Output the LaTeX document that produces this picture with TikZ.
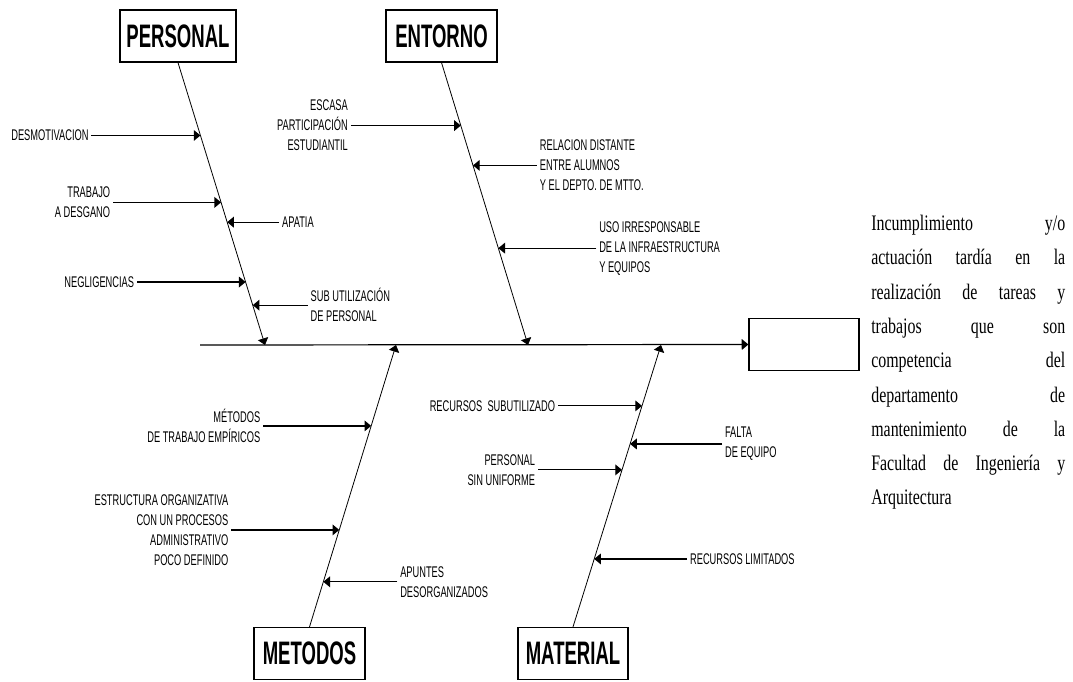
\documentclass[tikz,border=0pt]{standalone}
\usepackage{fontspec}
\usetikzlibrary{arrows.meta,calc}
\newfontfamily\labelfont{Liberation Sans}[FakeStretch=0.60]
\newfontfamily\titlefont{Liberation Sans}[FakeStretch=0.57]
\newfontfamily\effectfont{Liberation Serif}[FakeStretch=0.72]

\begin{document}
\begin{tikzpicture}[x=0.75pt,y=-0.75pt,
  catbox/.style={draw,line width=0.9pt,inner sep=0,minimum width=#1,minimum height=39pt,
    font=\titlefont\bfseries\fontsize{24.4}{26}\selectfont},
  bone/.style={line width=0.6pt,-{Triangle[length=5pt,width=8pt]}},
  cause/.style={line width=0.9pt,-{Triangle[length=5pt,width=8pt]}},
  lbl/.style={inner sep=2pt,font=\labelfont\fontsize{11.6}{15}\selectfont},
  lblL/.style={lbl,anchor=east,align=right},
  lblR/.style={lbl,anchor=west,align=left}]

\useasboundingbox (0,0) rectangle (1073,681);

% category boxes and effect box
\node[catbox=87pt]    (personal) at (178,36)    {PERSONAL};
\node[catbox=83.25pt] (entorno)  at (441.5,36)  {ENTORNO};
\node[catbox=83.25pt] (metodos)  at (309.5,653.5) {METODOS};
\node[catbox=82.5pt]  (material) at (573,653.5) {MATERIAL};
\node[draw,line width=0.9pt,inner sep=0,minimum width=82.5pt,minimum height=39pt] (efecto) at (804,344.5) {};

% spine
\coordinate (s0) at (200,345);
\draw[cause] (s0) -- (efecto.west);

% main bones, ending on the spine
\coordinate (pe) at (265,345);
\coordinate (ee) at (528,345);
\coordinate (me) at (396,345);
\coordinate (ae) at (661,345);
\draw[bone] (personal.south) -- (pe);
\draw[bone] (entorno.south) -- (ee);
\draw[bone] (metodos.north) -- (me);
\draw[bone] (material.north) -- (ae);

% causes: PERSONAL
\coordinate (p1) at ($(personal.south)!0.258!(pe)$);
\node[lblL] (tp1) at ($(p1)+(-109,0)$) {DESMOTIVACION};
\draw[cause] (tp1.east) -- (p1);
\coordinate (p2) at ($(personal.south)!0.495!(pe)$);
\node[lblL] (tp2) at ($(p2)+(-108,0)$) {TRABAJO\\A DESGANO};
\draw[cause] (tp2.east) -- (p2);
\coordinate (p3) at ($(personal.south)!0.565!(pe)$);
\node[lblR] (tp3) at ($(p3)+(52,0)$) {APATIA};
\draw[cause] (tp3.west) -- (p3);
\coordinate (p4) at ($(personal.south)!0.777!(pe)$);
\node[lblL] (tp4) at ($(p4)+(-108.6,0)$) {NEGLIGENCIAS};
\draw[cause] (tp4.east) -- (p4);
\coordinate (p5) at ($(personal.south)!0.859!(pe)$);
\node[lblR] (tp5) at ($(p5)+(55,0)$) {SUB UTILIZACIÓN\\DE PERSONAL};
\draw[cause] (tp5.west) -- (p5);

% causes: ENTORNO
\coordinate (e1) at ($(entorno.south)!0.223!(ee)$);
\node[lblL] (te1) at ($(e1)+(-110,0)$) {ESCASA\\PARTICIPACIÓN\\ESTUDIANTIL};
\draw[cause] (te1.east) -- (e1);
\coordinate (e2) at ($(entorno.south)!0.364!(ee)$);
\node[lblR] (te2) at ($(e2)+(64,0)$) {RELACION DISTANTE\\ENTRE ALUMNOS\\Y EL DEPTO. DE MTTO.};
\draw[cause] (te2.west) -- (e2);
\coordinate (e3) at ($(entorno.south)!0.657!(ee)$);
\node[lblR] (te3) at ($(e3)+(98,0)$) {USO IRRESPONSABLE\\DE LA INFRAESTRUCTURA\\Y EQUIPOS};
\draw[cause] (te3.west) -- (e3);

% causes: METODOS
\coordinate (m1) at ($(metodos.north)!0.713!(me)$);
\node[lblL] (tm1) at ($(m1)+(-108,0)$) {MÉTODOS\\DE TRABAJO EMPÍRICOS};
\draw[cause] (tm1.east) -- (m1);
\coordinate (m2) at ($(metodos.north)!0.344!(me)$);
\node[lblL] (tm2) at ($(m2)+(-108,0)$) {ESTRUCTURA ORGANIZATIVA\\CON UN PROCESOS\\ADMINISTRATIVO\\POCO DEFINIDO};
\draw[cause] (tm2.east) -- (m2);
\coordinate (m3) at ($(metodos.north)!0.160!(me)$);
\node[lblR] (tm3) at ($(m3)+(74,0)$) {APUNTES\\DESORGANIZADOS};
\draw[cause] (tm3.west) -- (m3);

% causes: MATERIAL
\coordinate (a1) at ($(material.north)!0.784!(ae)$);
\node[lblL] (ta1) at ($(a1)+(-84,0)$) {RECURSOS\ \ SUBUTILIZADO};
\draw[cause] (ta1.east) -- (a1);
\coordinate (a2) at ($(material.north)!0.649!(ae)$);
\node[lblR] (ta2) at ($(a2)+(92,0)$) {FALTA\\DE EQUIPO};
\draw[cause] (ta2.west) -- (a2);
\coordinate (a3) at ($(material.north)!0.557!(ae)$);
\node[lblL] (ta3) at ($(a3)+(-84,0)$) {PERSONAL\\SIN UNIFORME};
\draw[cause] (ta3.east) -- (a3);
\coordinate (a4) at ($(material.north)!0.241!(ae)$);
\node[lblR] (ta4) at ($(a4)+(93,0)$) {RECURSOS LIMITADOS};
\draw[cause] (ta4.west) -- (a4);

% effect statement, justified
\node[anchor=base west,inner sep=0] (efectotexto) at (871,230.7) {%
  \effectfont\fontsize{16.6}{25.7}\selectfont
  \vtop{\hsize=145.5pt
    \hbox to\hsize{Incumplimiento\hfill y/o}
    \hbox to\hsize{actuación\hfill tardía\hfill en\hfill la}
    \hbox to\hsize{realización\hfill de\hfill tareas\hfill y}
    \hbox to\hsize{trabajos\hfill que\hfill son}
    \hbox to\hsize{competencia\hfill del}
    \hbox to\hsize{departamento\hfill de}
    \hbox to\hsize{mantenimiento\hfill de\hfill la}
    \hbox to\hsize{Facultad\hfill de\hfill Ingeniería\hfill y}
    \hbox to\hsize{Arquitectura\hfil}}};
\end{tikzpicture}
\end{document}
